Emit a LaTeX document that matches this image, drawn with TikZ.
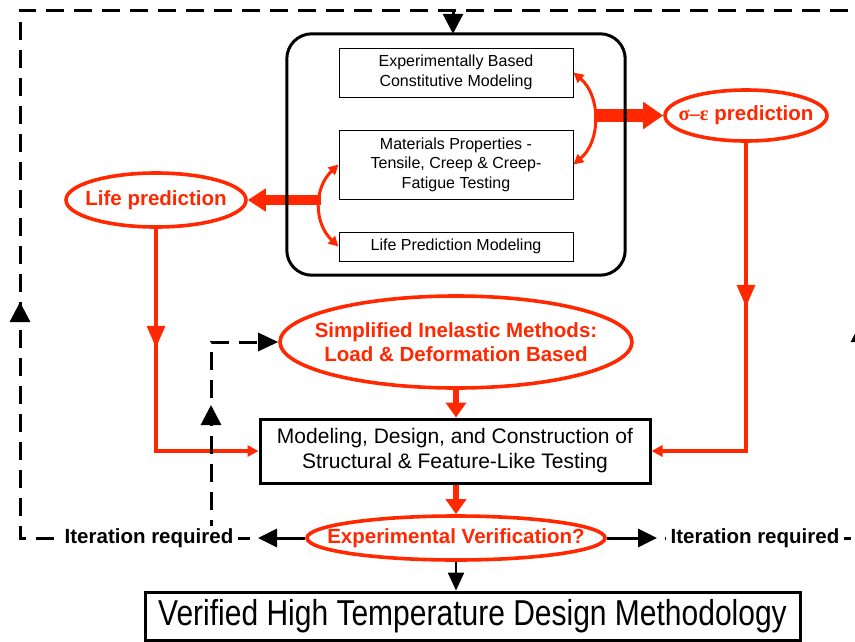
\documentclass[tikz,border=0pt]{standalone}
\usepackage{fontspec}
\setmainfont{Liberation Sans}
\newfontfamily\grkfont{Liberation Serif}
\usetikzlibrary{shapes.geometric,arrows.meta,decorations.markings}
\definecolor{rd}{RGB}{255,40,0}
\begin{document}
\begin{tikzpicture}[x=1pt,y=-1pt,
  innerbox/.style={draw, line width=0.9pt, minimum width=234pt, inner sep=0pt, align=center, font=\fontsize{16}{19.5}\selectfont},
  redell/.style={ellipse, draw=rd, line width=3.6pt, inner sep=0pt},
  redtxt/.style={text=rd, align=center, inner sep=0pt, font=\bfseries\fontsize{20.5}{24}\selectfont},
  blkbox/.style={draw, line width=3pt, inner sep=0pt, align=center},
  redln/.style={rd, line width=3.3pt},
  smalltip/.style={-{Triangle[length=11pt,width=11pt]}},
  thickv/.style={rd, line width=6pt, -{Triangle[length=15pt,width=20pt]}},
  dashln/.style={black, line width=3pt, dash pattern=on 18pt off 10pt},
  blktip/.style={-{Triangle[length=19pt,width=18pt]}},
  midblk/.style={postaction={decorate, decoration={markings, mark=at position #1 with {\arrow{Triangle[length=20pt,width=20pt]}}}}},
  midred/.style={postaction={decorate, decoration={markings, mark=at position #1 with {\arrow{Triangle[length=22pt,width=18pt]}}}}},
  itstyle/.style={fill=white, inner ysep=2pt, inner xsep=5pt, font=\bfseries\fontsize{20.5}{24}\selectfont}
]
\useasboundingbox (0,0) rectangle (855,641);
\clip (0,0) rectangle (855,641);

% nodes
\node[draw=none, minimum width=338pt, minimum height=241pt] (big) at (456,154.5) {};
\node[innerbox, minimum height=49pt] (b1) at (456,72.5) {Experimentally Based\\Constitutive Modeling};
\node[innerbox, minimum height=69pt] (b2) at (456,164.5) {Materials Properties -\\Tensile, Creep \& Creep-\\Fatigue Testing};
\node[innerbox, minimum height=29pt] (b3) at (456,246.5) {Life Prediction Modeling};

\node[redell, minimum width=180pt, minimum height=54pt] (life) at (156,200) {};
\node[redtxt] (lifet) at (life.center) {Life prediction};
\node[redell, minimum width=162pt, minimum height=51pt] (se) at (746,115.5) {};
\node[redtxt] (set) at (se.center) {{\grkfont σ–ε} prediction};
\node[redell, minimum width=352pt, minimum height=92pt] (simp) at (456,342) {};
\node[redtxt] (simpt) at (simp.center) {Simplified Inelastic Methods:\\Load \& Deformation Based};
\node[blkbox, minimum width=390pt, minimum height=64pt, font=\fontsize{21}{25}\selectfont] (model) at (455,451) {Modeling, Design, and Construction of\\Structural \& Feature-Like Testing};
\node[redell, minimum width=298pt, minimum height=44pt] (exp) at (456,538) {};
\node[redtxt] (expt) at (exp.center) {Experimental Verification?};
\node[blkbox, minimum width=655pt, minimum height=48pt, font=\fontsize{30}{36}\selectfont] (final) at (472.5,616) {\scalebox{1.0}[1.2]{Verified High Temperature Design Methodology}};

% coordinates
\coordinate (rc) at (594,115.5);
\coordinate (lc) at (321,200);
\coordinate (la) at (258,538);
\coordinate (ra) at (657,538);
\coordinate (bl) at (20,538);
\coordinate (tl) at (20,10);
\coordinate (tr) at (861,10);
\coordinate (br) at (861,538);
\coordinate (dbr) at (211,538);
\coordinate (ta) at (453,10);

% curved double arrows
\draw[rd, line width=3pt, {Triangle[length=10pt,width=10pt]}-{Triangle[length=10pt,width=10pt]}]
  (b1.east) .. controls (601,96) and (601,141) .. (b2.east);
\draw[rd, line width=3pt, {Triangle[length=10pt,width=10pt]}-{Triangle[length=10pt,width=10pt]}]
  (b2.west) .. controls (313.7,188) and (313.7,223) .. (b3.west);

% thick arrows out of the box
\draw[rd, line width=13pt, -{Triangle[length=20pt,width=26pt]}] (rc) -- (se.west);
\draw[rd, line width=10pt, -{Triangle[length=18pt,width=22pt]}] (lc) -- (life.east);

% red connectors
\draw[redln, midred=119pt, smalltip] (life.south) |- (model.west);
\draw[redln, midred=164pt, smalltip] (se.south) |- (model.east);
\draw[thickv] (simp.south) -- (simp.south |- model.north);
\draw[thickv] (model.south -| exp.north) -- (exp.north);

% black connectors
\draw[line width=2.5pt, -{Triangle[length=18pt,width=16pt]}] (exp.south) -- (exp.south |- final.north);
\draw[line width=3pt, blktip] (exp.west) -- (la);
\draw[line width=3pt, blktip] (exp.east) -- (ra);
\draw[dashln, dash phase=20pt, midblk=474pt] (la) -- (bl) -- (tl) -- (tr);
\draw[dashln, dash phase=20pt, midblk=420pt] (ra) -- (br) -- (tr);
\draw[dashln, midblk=133pt, -{Triangle[length=20pt,width=18pt]}] (dbr) |- (simp.west);
\draw[line width=3pt, -{Triangle[length=20pt,width=20pt]}] (ta) -- (ta |- big.north);

% big rounded box border
\draw[line width=3pt, rounded corners=25pt] (big.south west) rectangle (big.north east);

% iteration labels
\node[itstyle] (itl) at (149,538) {Iteration required};
\node[itstyle] (itr) at (755,538) {Iteration required};
\end{tikzpicture}
\end{document}
